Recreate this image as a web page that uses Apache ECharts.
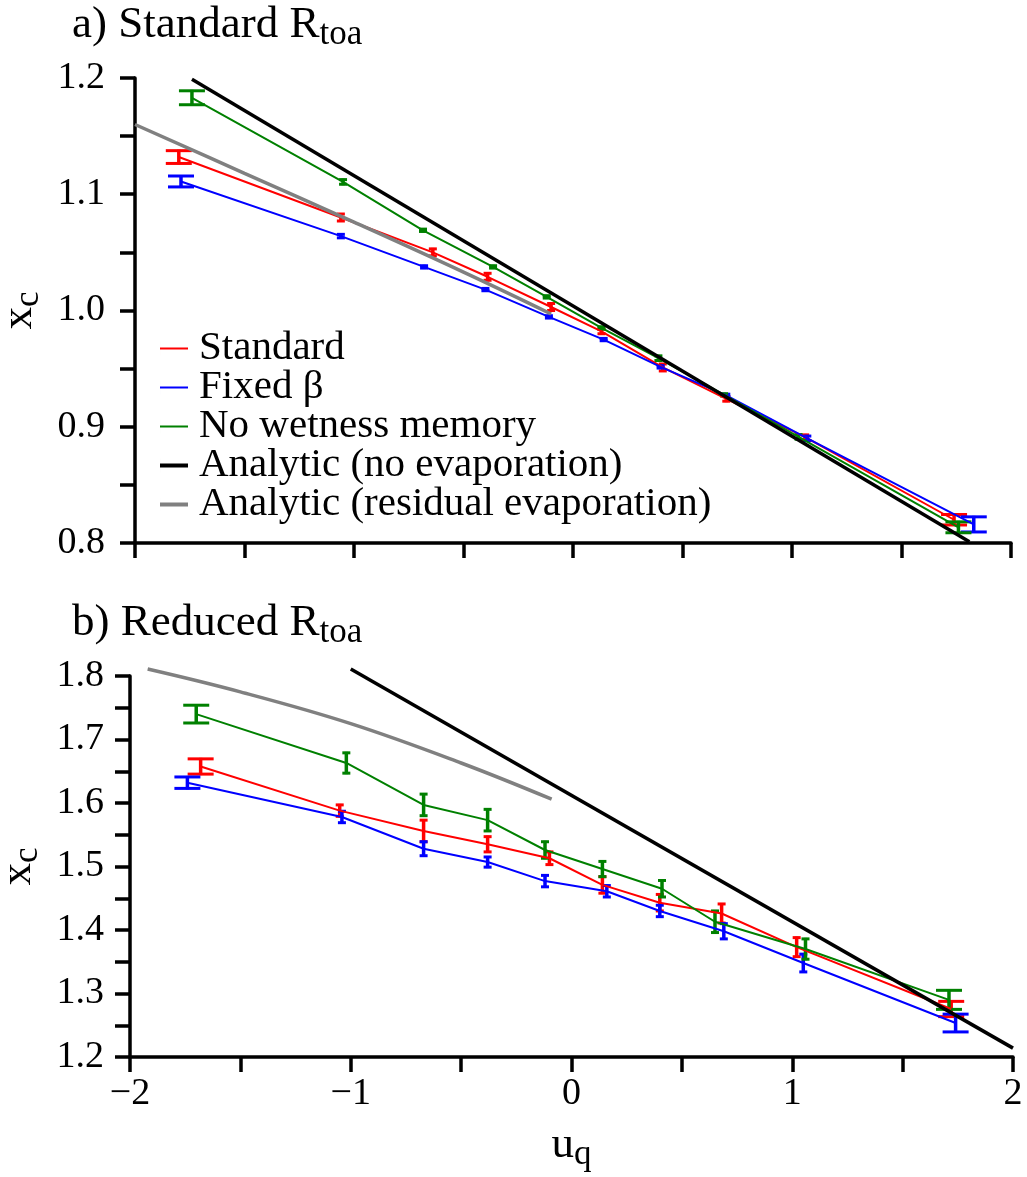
<!DOCTYPE html>
<html>
<head>
<meta charset="utf-8">
<script src="https://cdn.jsdelivr.net/npm/echarts@6/dist/echarts.min.js"></script>
<style>
  html, body { margin: 0; padding: 0; background: #fff; }
  #chart { width: 1027px; height: 1177px; }
</style>
</head>
<body>
<div id="chart"></div>
<script>
var font = '"Liberation Serif", "DejaVu Serif", serif'

// a) Standard R_toa
var redA_u = [-1.80, -1.06, -0.64, -0.39, -0.10, 0.13, 0.41, 0.70, 1.06, 1.74]
var redA_y = [1.132, 1.080, 1.050, 1.029, 1.003, 0.982, 0.951, 0.924, 0.891, 0.820]
var redA_e = [0.0055, 0.003, 0.003, 0.003, 0.003, 0.002, 0.003, 0.002, 0.002, 0.0045]
var blueA_u = [-1.79, -1.06, -0.68, -0.40, -0.11, 0.14, 0.40, 0.70, 1.07, 1.83]
var blueA_y = [1.111, 1.064, 1.0375, 1.018, 0.9945, 0.975, 0.9515, 0.927, 0.890, 0.816]
var blueA_e = [0.0047, 0.0015, 0.001, 0.001, 0.001, 0.001, 0.001, 0.001, 0.002, 0.0065]
var greenA_u = [-1.74, -1.05, -0.685, -0.365, -0.12, 0.13, 0.39, 0.69, 1.03, 1.76]
var greenA_y = [1.183, 1.1106, 1.069, 1.0375, 1.0117, 0.985, 0.959, 0.9274, 0.8913, 0.8135]
var greenA_e = [0.006, 0.002, 0.001, 0.001, 0.001, 0.001, 0.002, 0.001, 0.002, 0.0047]
var blackA_u = [-1.74, 1.81]
var blackA_y = [1.199, 0.801]
var grayA_u = [-2.0, -1.5, -1.0, -0.5, -0.1]
var grayA_y = [1.160, 1.118, 1.076, 1.033, 0.997]

// b) Reduced R_toa
var redB_u = [-1.68, -1.05, -0.67, -0.38, -0.10, 0.14, 0.40, 0.68, 1.02, 1.72]
var redB_y = [1.6575, 1.588, 1.556, 1.535, 1.513, 1.471, 1.443, 1.426, 1.373, 1.2756]
var redB_e = [0.012, 0.009, 0.017, 0.012, 0.010, 0.013, 0.013, 0.015, 0.015, 0.012]
var blueB_u = [-1.74, -1.04, -0.67, -0.38, -0.12, 0.16, 0.40, 0.69, 1.05, 1.74]
var blueB_y = [1.632, 1.578, 1.528, 1.507, 1.477, 1.461, 1.430, 1.398, 1.348, 1.2535]
var blueB_e = [0.009, 0.009, 0.011, 0.008, 0.009, 0.009, 0.009, 0.012, 0.014, 0.014]
var greenB_u = [-1.70, -1.02, -0.67, -0.38, -0.12, 0.14, 0.41, 0.65, 1.06, 1.71]
var greenB_y = [1.740, 1.663, 1.597, 1.573, 1.526, 1.496, 1.465, 1.413, 1.370, 1.290]
var greenB_e = [0.014, 0.016, 0.017, 0.017, 0.013, 0.012, 0.013, 0.017, 0.016, 0.015]
var blackB_u = [-1.0, 2.0]
var blackB_y = [1.811, 1.214]
var grayB_u = [-1.92, -1.5, -1.0, -0.5, -0.09]
var grayB_y = [1.811, 1.775, 1.725, 1.663, 1.606]

var names = ['Standard', 'Fixed β', 'No wetness memory', 'Analytic (no evaporation)', 'Analytic (residual evaporation)']
var colors = ['#ff0000', '#0000ff', '#008000', '#000000', '#808080']

var myChart = echarts.init(document.getElementById('chart'), null, { renderer: 'canvas' })

function pairs(u, y) {
  return u.map(function (v, i) { return [v, y[i]] })
}

function lineSeries(name, u, y, color, width, g, smooth) {
  return {
    type: 'line', name: name, xAxisIndex: g, yAxisIndex: g,
    data: pairs(u, y), symbol: 'none', clip: false, silent: true, smooth: smooth || false,
    lineStyle: { color: color, width: width }, itemStyle: { color: color }
  }
}

function errSeries(u, y, e, color, g) {
  var n = u.length
  return {
    type: 'custom', xAxisIndex: g, yAxisIndex: g, silent: true,
    itemStyle: { color: color },
    data: u.map(function (v, i) { return [v, y[i], e[i]] }),
    encode: { x: 0, y: 1 },
    renderItem: function (params, api) {
      var x = api.value(0), m = api.value(1), d = api.value(2)
      var top = api.coord([x, m + d])
      var bot = api.coord([x, m - d])
      // first and last points have the wide caps
      var w = (params.dataIndex === 0 || params.dataIndex === n - 1) ? 13 : 4
      var st = { stroke: color, lineWidth: 3 }
      return {
        type: 'group',
        children: [
          { type: 'line', shape: { x1: top[0], y1: top[1] - 1, x2: bot[0], y2: bot[1] + 1 }, style: { stroke: color, lineWidth: 3.5 } },
          { type: 'line', shape: { x1: top[0] - w, y1: top[1], x2: top[0] + w, y2: top[1] }, style: st },
          { type: 'line', shape: { x1: bot[0] - w, y1: bot[1], x2: bot[0] + w, y2: bot[1] }, style: st }
        ]
      }
    }
  }
}

var subRich = {
  m: { fontFamily: font, fontSize: 45, fontWeight: 'normal', color: '#000', lineHeight: 50 },
  s: { fontFamily: font, fontSize: 35, fontWeight: 'normal', color: '#000', lineHeight: 30, padding: [20, 0, 0, 0] }
}

function tenths(v) {
  return Math.abs(Math.round(v * 10) - v * 10) < 1e-6 ? v.toFixed(1) : ''
}
function integers(v) {
  if (Math.abs(Math.round(v) - v) > 1e-6) return ''
  return v < 0 ? '\u2212' + Math.abs(Math.round(v)) : String(Math.round(v))
}

function xAxis(g, showLabels) {
  return {
    type: 'value', gridIndex: g, min: -2, max: 2, interval: 0.5,
    axisLine: { onZero: false, lineStyle: { color: '#000', width: 3.5 } },
    axisTick: { length: 15, lineStyle: { color: '#000', width: 3.5 } },
    axisLabel: { show: showLabels, formatter: integers, fontFamily: font, fontSize: 38, color: '#000', margin: 18 },
    splitLine: { show: false },
    name: showLabels ? '{m|u}{s|q}' : '',
    nameLocation: 'middle', nameGap: 63,
    nameTextStyle: { rich: subRich }
  }
}

function yAxis(g, min, max, margin) {
  return {
    type: 'value', gridIndex: g, min: min, max: max, interval: 0.05,
    axisLine: { onZero: false, lineStyle: { color: '#000', width: 3.5 } },
    axisTick: { length: 15, lineStyle: { color: '#000', width: 3.5 } },
    axisLabel: { formatter: tenths, fontFamily: font, fontSize: 38, color: '#000', margin: margin },
    splitLine: { show: false },
    name: '{m|x}{s|c}',
    nameLocation: 'middle', nameGap: 84,
    nameTextStyle: { rich: subRich }
  }
}

// legend keys: plain strokes, thin for the simulations and thick for the analytic curves
function legendIcon(h) {
  var y0 = 7 - h / 2
  return 'path://M0,' + y0 + 'h28v' + h + 'h-28z M0,0h0.01v14h-0.01z'
}

var option = {
  animation: false,
  backgroundColor: '#fff',
  title: [
    { left: 72, top: 0, padding: 0, text: '{m|a) Standard R}{s|toa}', textStyle: { rich: subRich } },
    { left: 72, top: 598, padding: 0, text: '{m|b) Reduced R}{s|toa}', textStyle: { rich: subRich } }
  ],
  legend: {
    data: names.map(function (nm, i) {
      return { name: nm, icon: legendIcon(i < 3 ? 2 : 4), itemStyle: { color: colors[i], borderWidth: 0 } }
    }),
    orient: 'vertical', left: 160, top: 328, padding: 0,
    itemWidth: 28, itemHeight: 14, itemGap: -2,
    textStyle: { fontFamily: font, fontSize: 41, color: '#000', lineHeight: 38, padding: [0, 0, 0, 6] }
  },
  grid: [
    { left: 135, width: 876, top: 78, height: 465, outerBoundsMode: 'none' },
    { left: 130, width: 883, top: 676, height: 381, outerBoundsMode: 'none' }
  ],
  xAxis: [xAxis(0, false), xAxis(1, true)],
  yAxis: [yAxis(0, 0.8, 1.2, 30), yAxis(1, 1.2, 1.8, 26)],
  series: [
    lineSeries(names[0], redA_u, redA_y, colors[0], 2, 0),
    lineSeries(names[1], blueA_u, blueA_y, colors[1], 2, 0),
    lineSeries(names[2], greenA_u, greenA_y, colors[2], 2, 0),
    errSeries(redA_u, redA_y, redA_e, colors[0], 0),
    errSeries(blueA_u, blueA_y, blueA_e, colors[1], 0),
    errSeries(greenA_u, greenA_y, greenA_e, colors[2], 0),
    lineSeries(names[3], blackA_u, blackA_y, colors[3], 3.5, 0),
    lineSeries(names[4], grayA_u, grayA_y, colors[4], 3.5, 0, 0.4),

    lineSeries(names[0], redB_u, redB_y, colors[0], 2, 1),
    lineSeries(names[1], blueB_u, blueB_y, colors[1], 2, 1),
    lineSeries(names[2], greenB_u, greenB_y, colors[2], 2, 1),
    errSeries(redB_u, redB_y, redB_e, colors[0], 1),
    errSeries(blueB_u, blueB_y, blueB_e, colors[1], 1),
    errSeries(greenB_u, greenB_y, greenB_e, colors[2], 1),
    lineSeries(names[3], blackB_u, blackB_y, colors[3], 3.5, 1),
    lineSeries(names[4], grayB_u, grayB_y, colors[4], 3.5, 1, 0.4)
  ]
}
myChart.setOption(option)
</script>
</body>
</html>
